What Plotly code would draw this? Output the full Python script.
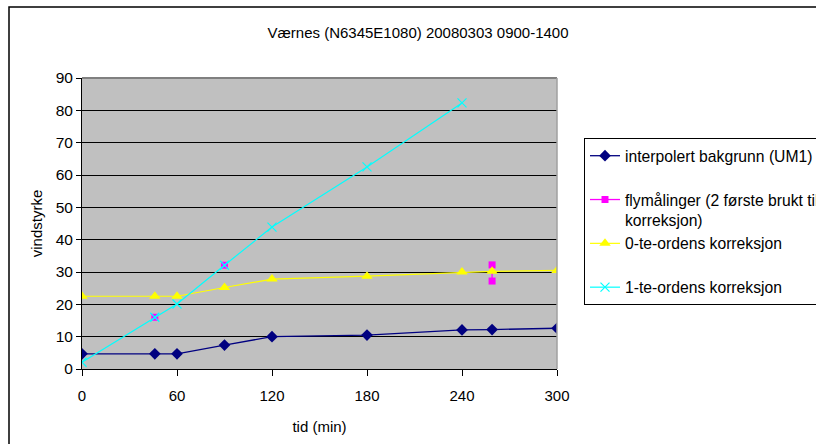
import plotly.graph_objects as go

# ---- data ----
tid = [0, 46, 60, 90, 120, 180, 240, 259, 300]
bakgrunn = [4.7, 4.7, 4.7, 7.4, 10.0, 10.5, 12.1, 12.2, 12.6]
fly_tid = [46, None, 90, None, 259, 259]
fly_verdi = [16.0, None, 32.1, None, 32.2, 27.2]
korr0 = [22.5, 22.5, 22.5, 25.2, 27.8, 28.7, 30.0, 30.2, 30.5]
tid1 = [0, 46, 60, 90, 120, 180, 240]
korr1 = [2.1, 16.0, 20.1, 32.1, 43.9, 62.5, 82.3]

x_ticks = [0, 60, 120, 180, 240, 300]
y_ticks = [0, 10, 20, 30, 40, 50, 60, 70, 80, 90]

names = ["interpolert bakgrunn (UM1)<br> ",
         "flymålinger (2 første brukt til<br>korreksjon)",
         "0-te-ordens korreksjon<br> ",
         "1-te-ordens korreksjon"]

FONT = "Liberation Sans, Arial, sans-serif"
W, H = 816, 444
L, R, T, B = 82, 557, 78, 369

fig = go.Figure()
fig.add_trace(go.Scatter(
    x=tid, y=bakgrunn, mode="lines+markers", name=names[0],
    legendgroup="a",
    line=dict(color="#000080", width=1.3),
    marker=dict(symbol="diamond", size=9, color="#000080")))
fig.add_trace(go.Scatter(
    x=fly_tid, y=fly_verdi, mode="lines+markers", name=names[1],
    legendgroup="b", connectgaps=False,
    line=dict(color="#FF00FF", width=1.3),
    marker=dict(symbol="square", size=7, color="#FF00FF")))
fig.add_trace(go.Scatter(
    x=tid, y=korr0, mode="lines+markers", name=names[2],
    legendgroup="c",
    line=dict(color="#FFFF00", width=1.2),
    marker=dict(symbol="triangle-up", size=10, color="#FFFF00")))
fig.add_trace(go.Scatter(
    x=tid1, y=korr1, mode="lines+markers", name=names[3],
    legendgroup="d",
    line=dict(color="#00FFFF", width=1.2),
    marker=dict(symbol="x-thin", size=9, line=dict(color="#00FFFF", width=1.2))))

def px_x(p):
    return (p - L) / (R - L)

def px_y(p):
    return (B - p) / (B - T)

fig.update_layout(
    width=W, height=H,
    margin=dict(l=L, r=W - R, t=T, b=H - B, autoexpand=False),
    paper_bgcolor="white", plot_bgcolor="#C0C0C0",
    font=dict(family=FONT, size=15, color="black"),
    title=dict(text="Værnes (N6345E1080) 20080303 0900-1400",
               xref="container", yref="container",
               x=418 / W, xanchor="center", y=1 - 33 / H, yanchor="middle",
               font=dict(size=15)),
    showlegend=True,
    legend=dict(x=px_x(584), y=px_y(138), xanchor="left", yanchor="top",
                bordercolor="black", borderwidth=1, bgcolor="white",
                traceorder="grouped", tracegroupgap=0, valign="top",
                font=dict(size=15.7)),
    xaxis=dict(range=[0, 300], tickvals=x_ticks, showgrid=False, zeroline=False,
               showline=True, linecolor="black", linewidth=1,
               ticks="outside", ticklen=6, tickcolor="black",
               ticklabelstandoff=7,
               title=dict(text="tid (min)", standoff=18, font=dict(size=15)),
               tickfont=dict(size=15)),
    yaxis=dict(range=[0, 90], tickvals=y_ticks, showgrid=True, gridcolor="black",
               gridwidth=1, zeroline=False,
               showline=True, linecolor="black", linewidth=1,
               ticks="outside", ticklen=5, tickcolor="black",
               title=dict(text="vindstyrke", standoff=9, font=dict(size=15)),
               tickfont=dict(size=15.5)),
    shapes=[
        dict(type="line", xref="paper", yref="paper", x0=0, x1=1, y0=1, y1=1,
             line=dict(color="#808080", width=2)),
        dict(type="line", xref="paper", yref="paper", x0=1, x1=1, y0=0, y1=1,
             line=dict(color="#A0A0A0", width=1.5)),
        dict(type="rect", xref="paper", yref="paper",
             x0=px_x(9), x1=px_x(W + 40), y0=px_y(H + 40), y1=px_y(7),
             line=dict(color="black", width=1.5), fillcolor="rgba(0,0,0,0)"),
    ],
)

fig.write_html("out.html")
